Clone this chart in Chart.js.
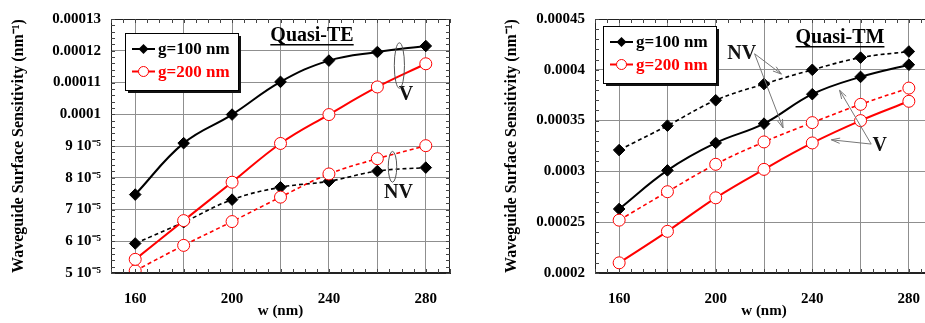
<!DOCTYPE html>
<html>
<head>
<title>Waveguide Surface Sensitivity</title>
<script src="https://cdn.jsdelivr.net/npm/chart.js"></script>
<style>
  body { margin: 0; background: #fff; overflow: hidden; width: 925px; height: 323px; position: relative; }
  .box { position: absolute; top: 0; height: 323px; }
</style>
</head>
<body>
<div class="box" style="left:0;width:460px"><canvas id="te" width="460" height="323"></canvas></div>
<div class="box" style="left:465px;width:480px"><canvas id="tm" width="480" height="323"></canvas></div>

<script>
var widths = [160, 180, 200, 220, 240, 260, 280];

// Quasi-TE
var teV100 = [7.47e-5, 9.09e-5, 9.99e-5, 1.102e-4, 1.169e-4, 1.196e-4, 1.215e-4];
var teV200 = [5.43e-5, 6.65e-5, 7.86e-5, 9.08e-5, 9.99e-5, 1.086e-4, 1.159e-4];
var teNV100 = [5.93e-5, 6.60e-5, 7.31e-5, 7.70e-5, 7.89e-5, 8.21e-5, 8.32e-5];
var teNV200 = [5.07e-5, 5.87e-5, 6.62e-5, 7.39e-5, 8.12e-5, 8.60e-5, 9.01e-5];
var teYLabels = ["5 10⁻⁵", "6 10⁻⁵", "7 10⁻⁵", "8 10⁻⁵", "9 10⁻⁵", "0.0001", "0.00011", "0.00012", "0.00013"];

// Quasi-TM
var tmV100 = [2.63e-4, 3.01e-4, 3.28e-4, 3.47e-4, 3.76e-4, 3.93e-4, 4.05e-4];
var tmV200 = [2.10e-4, 2.41e-4, 2.74e-4, 3.02e-4, 3.28e-4, 3.50e-4, 3.69e-4];
var tmNV100 = [3.21e-4, 3.45e-4, 3.70e-4, 3.86e-4, 4.00e-4, 4.12e-4, 4.18e-4];
var tmNV200 = [2.52e-4, 2.80e-4, 3.07e-4, 3.29e-4, 3.48e-4, 3.66e-4, 3.82e-4];
var tmYLabels = ["0.0002", "0.00025", "0.0003", "0.00035", "0.0004", "0.00045"];

var xTicks = [160, 200, 240, 280];
var xGrid = [160, 180, 200, 220, 240, 260, 280];
var legendLabels = ["g=100 nm", "g=200 nm"];
var yTitle = "Waveguide Surface Sensitivity (nm⁻¹)";

var SERIF = "'Liberation Serif', 'Times New Roman', serif";
Chart.defaults.font.family = SERIF;
Chart.defaults.font.weight = "bold";
Chart.defaults.color = "#000";

function series(values, color, dashed, hollow) {
    return {
        data: widths.map(function (w, i) { return { x: w, y: values[i] }; }),
        borderColor: color,
        borderWidth: dashed ? 1.6 : 2,
        borderDash: dashed ? [4, 3] : [],
        tension: 0.4,
        pointStyle: hollow ? "circle" : "rectRot",
        pointRadius: hollow ? 6 : 5.8,
        pointBackgroundColor: hollow ? "#fff" : "#000",
        pointBorderColor: color,
        pointBorderWidth: 1
    };
}

function px(chart, x, y) {
    return [chart.scales.x.getPixelForValue(x), chart.scales.y.getPixelForValue(y)];
}

// frame on top/right plus small inward ticks
var framePlugin = {
    id: "frame",
    afterDraw: function (chart, args, o) {
        var ctx = chart.ctx, a = chart.chartArea, sx = chart.scales.x, sy = chart.scales.y;
        ctx.save();
        ctx.strokeStyle = "#222";
        ctx.lineWidth = 1;
        ctx.strokeRect(a.left + 0.5, a.top + 0.5, a.right - a.left - 1, a.bottom - a.top - 1);
        ctx.strokeStyle = "#444";
        ctx.beginPath();
        for (var v = sx.min; v <= sx.max + 1e-9; v += o.xMinor) {
            var p = Math.round(sx.getPixelForValue(v)) + 0.5;
            ctx.moveTo(p, a.bottom); ctx.lineTo(p, a.bottom - 4);
            ctx.moveTo(p, a.top); ctx.lineTo(p, a.top + 4);
        }
        for (var k = 0; sy.min + k * o.yMinor <= sy.max * 1.0000001; k++) {
            var q = Math.round(sy.getPixelForValue(sy.min + k * o.yMinor)) + 0.5;
            ctx.moveTo(a.left, q); ctx.lineTo(a.left + 4, q);
            ctx.moveTo(a.right, q); ctx.lineTo(a.right - 4, q);
        }
        ctx.stroke();
        ctx.restore();
    }
};

// legend box, title and V / NV notes
var notesPlugin = {
    id: "notes",
    afterDraw: function (chart, args, o) {
        var ctx = chart.ctx, a = chart.chartArea;
        ctx.save();

        // legend
        var bx = a.left + o.legend[0], by = a.top + o.legend[1], bw = 113, bh = 57;
        ctx.fillStyle = "#111";
        ctx.fillRect(bx + 3, by + 3, bw, bh);
        ctx.fillStyle = "#fff";
        ctx.fillRect(bx, by, bw, bh);
        ctx.strokeStyle = "#000";
        ctx.lineWidth = 1;
        ctx.strokeRect(bx + 0.5, by + 0.5, bw, bh);
        ctx.font = "bold 17px " + SERIF;
        ctx.textBaseline = "middle";
        legendLabels.forEach(function (lab, i) {
            var ly = by + 16 + i * 22.5, color = i === 0 ? "#000" : "#f00";
            ctx.strokeStyle = color;
            ctx.lineWidth = 2;
            ctx.beginPath(); ctx.moveTo(bx + 7, ly); ctx.lineTo(bx + 30, ly); ctx.stroke();
            var mx = bx + 18.5;
            ctx.beginPath();
            if (i === 0) {
                ctx.moveTo(mx, ly - 5); ctx.lineTo(mx + 5, ly); ctx.lineTo(mx, ly + 5); ctx.lineTo(mx - 5, ly);
                ctx.closePath(); ctx.fillStyle = "#000"; ctx.fill();
            } else {
                ctx.arc(mx, ly, 5, 0, Math.PI * 2);
                ctx.fillStyle = "#fff"; ctx.fill();
                ctx.lineWidth = 1; ctx.stroke();
            }
            ctx.fillStyle = color;
            ctx.textAlign = "left";
            ctx.fillText(lab, bx + 33, ly + 1);
        });

        // title, underlined
        ctx.font = "bold 20px " + SERIF;
        ctx.fillStyle = "#000";
        ctx.textAlign = "center";
        ctx.textBaseline = "alphabetic";
        var tx = a.left + o.title[0], ty = a.top + o.title[1];
        ctx.fillText(o.title[2], tx, ty);
        var tw = ctx.measureText(o.title[2]).width;
        ctx.fillRect(tx - tw / 2, ty + 3, tw, 1.5);

        // labels
        ctx.textBaseline = "middle";
        ctx.fillStyle = "#111";
        o.labels.forEach(function (l) {
            var p = px(chart, l[1], l[2]);
            ctx.fillText(l[0], p[0], p[1]);
        });

        // ellipses
        ctx.strokeStyle = "#555";
        ctx.lineWidth = 1;
        (o.ellipses || []).forEach(function (e) {
            var p1 = px(chart, e[0], e[2]), p2 = px(chart, e[1], e[3]);
            ctx.beginPath();
            ctx.ellipse((p1[0] + p2[0]) / 2, (p1[1] + p2[1]) / 2, Math.abs(p2[0] - p1[0]) / 2, Math.abs(p2[1] - p1[1]) / 2, 0, 0, Math.PI * 2);
            ctx.stroke();
        });

        // arrows
        ctx.strokeStyle = "#777";
        (o.arrows || []).forEach(function (r) {
            var s = px(chart, r[0], r[1]), t = px(chart, r[2], r[3]);
            var ang = Math.atan2(t[1] - s[1], t[0] - s[0]);
            ctx.beginPath();
            ctx.moveTo(s[0], s[1]); ctx.lineTo(t[0], t[1]);
            ctx.moveTo(t[0] - 9 * Math.cos(ang - 0.3), t[1] - 9 * Math.sin(ang - 0.3));
            ctx.lineTo(t[0], t[1]);
            ctx.lineTo(t[0] - 9 * Math.cos(ang + 0.3), t[1] - 9 * Math.sin(ang + 0.3));
            ctx.stroke();
        });
        ctx.restore();
    }
};

function makeChart(id, sets, yMin, yMax, yStep, yLabels, yWidth, titlePad, padRight, notes, yMinor) {
    return new Chart(document.getElementById(id), {
        type: "line",
        data: { datasets: sets },
        plugins: [framePlugin, notesPlugin],
        options: {
            responsive: false,
            animation: false,
            layout: { padding: { top: 12, right: padRight, left: 0, bottom: 0 } },
            plugins: {
                legend: { display: false },
                tooltip: { enabled: false },
                frame: { xMinor: 5, yMinor: yMinor },
                notes: notes
            },
            scales: {
                x: {
                    type: "linear", min: 150, max: 290,
                    afterBuildTicks: function (s) { s.ticks = xGrid.map(function (v) { return { value: v }; }); },
                    afterFit: function (s) { s.height = 50; },
                    grid: { color: "#8f8f8f", drawTicks: false },
                    border: { color: "#222" },
                    ticks: {
                        padding: 17, maxRotation: 0, autoSkip: false, font: { size: 15 },
                        callback: function (v) { return xTicks.indexOf(v) >= 0 ? String(v) : ""; }
                    },
                    title: { display: true, text: "w (nm)", font: { size: 15 }, padding: { top: 0, bottom: 3 } }
                },
                y: {
                    min: yMin, max: yMax,
                    afterFit: function (s) { s.width = yWidth; },
                    grid: { color: "#8f8f8f", drawTicks: false },
                    border: { color: "#222" },
                    ticks: {
                        stepSize: yStep, padding: 10, font: { size: 15 },
                        callback: function (v) { return yLabels[Math.round((v - yMin) / yStep)]; }
                    },
                    title: { display: true, text: yTitle, font: { size: 16 }, padding: { top: titlePad, bottom: 0 } }
                }
            }
        }
    });
}

makeChart("te",
    [series(teV200, "#f00", false, true), series(teNV200, "#f00", true, true),
     series(teV100, "#000", false, false), series(teNV100, "#000", true, false)],
    5e-5, 1.3e-4, 1e-5, teYLabels, 111, 9, 10,
    {
        legend: [14, 14], title: [201, 22, "Quasi-TE"],
        labels: [["V", 271.8, 1.06e-4], ["NV", 268.7, 7.53e-5]],
        ellipses: [[267, 271.2, 1.082e-4, 1.225e-4], [264.5, 268, 7.86e-5, 8.83e-5]]
    }, 2e-6);

makeChart("tm",
    [series(tmV200, "#f00", false, true), series(tmNV200, "#f00", true, true),
     series(tmV100, "#000", false, false), series(tmNV100, "#000", true, false)],
    2e-4, 4.5e-4, 5e-5, tmYLabels, 130, 37, 12,
    {
        legend: [8, 7], title: [245, 24, "Quasi-TM"],
        labels: [["NV", 210.8, 4.157e-4], ["V", 267.9, 3.254e-4]],
        arrows: [[216.1, 4.158e-4, 227.2, 3.958e-4], [216.1, 4.158e-4, 227.9, 3.428e-4],
                 [264.4, 3.269e-4, 251.3, 3.799e-4], [264.4, 3.269e-4, 247.9, 3.311e-4]]
    }, 1e-5);
</script>
</body>
</html>
